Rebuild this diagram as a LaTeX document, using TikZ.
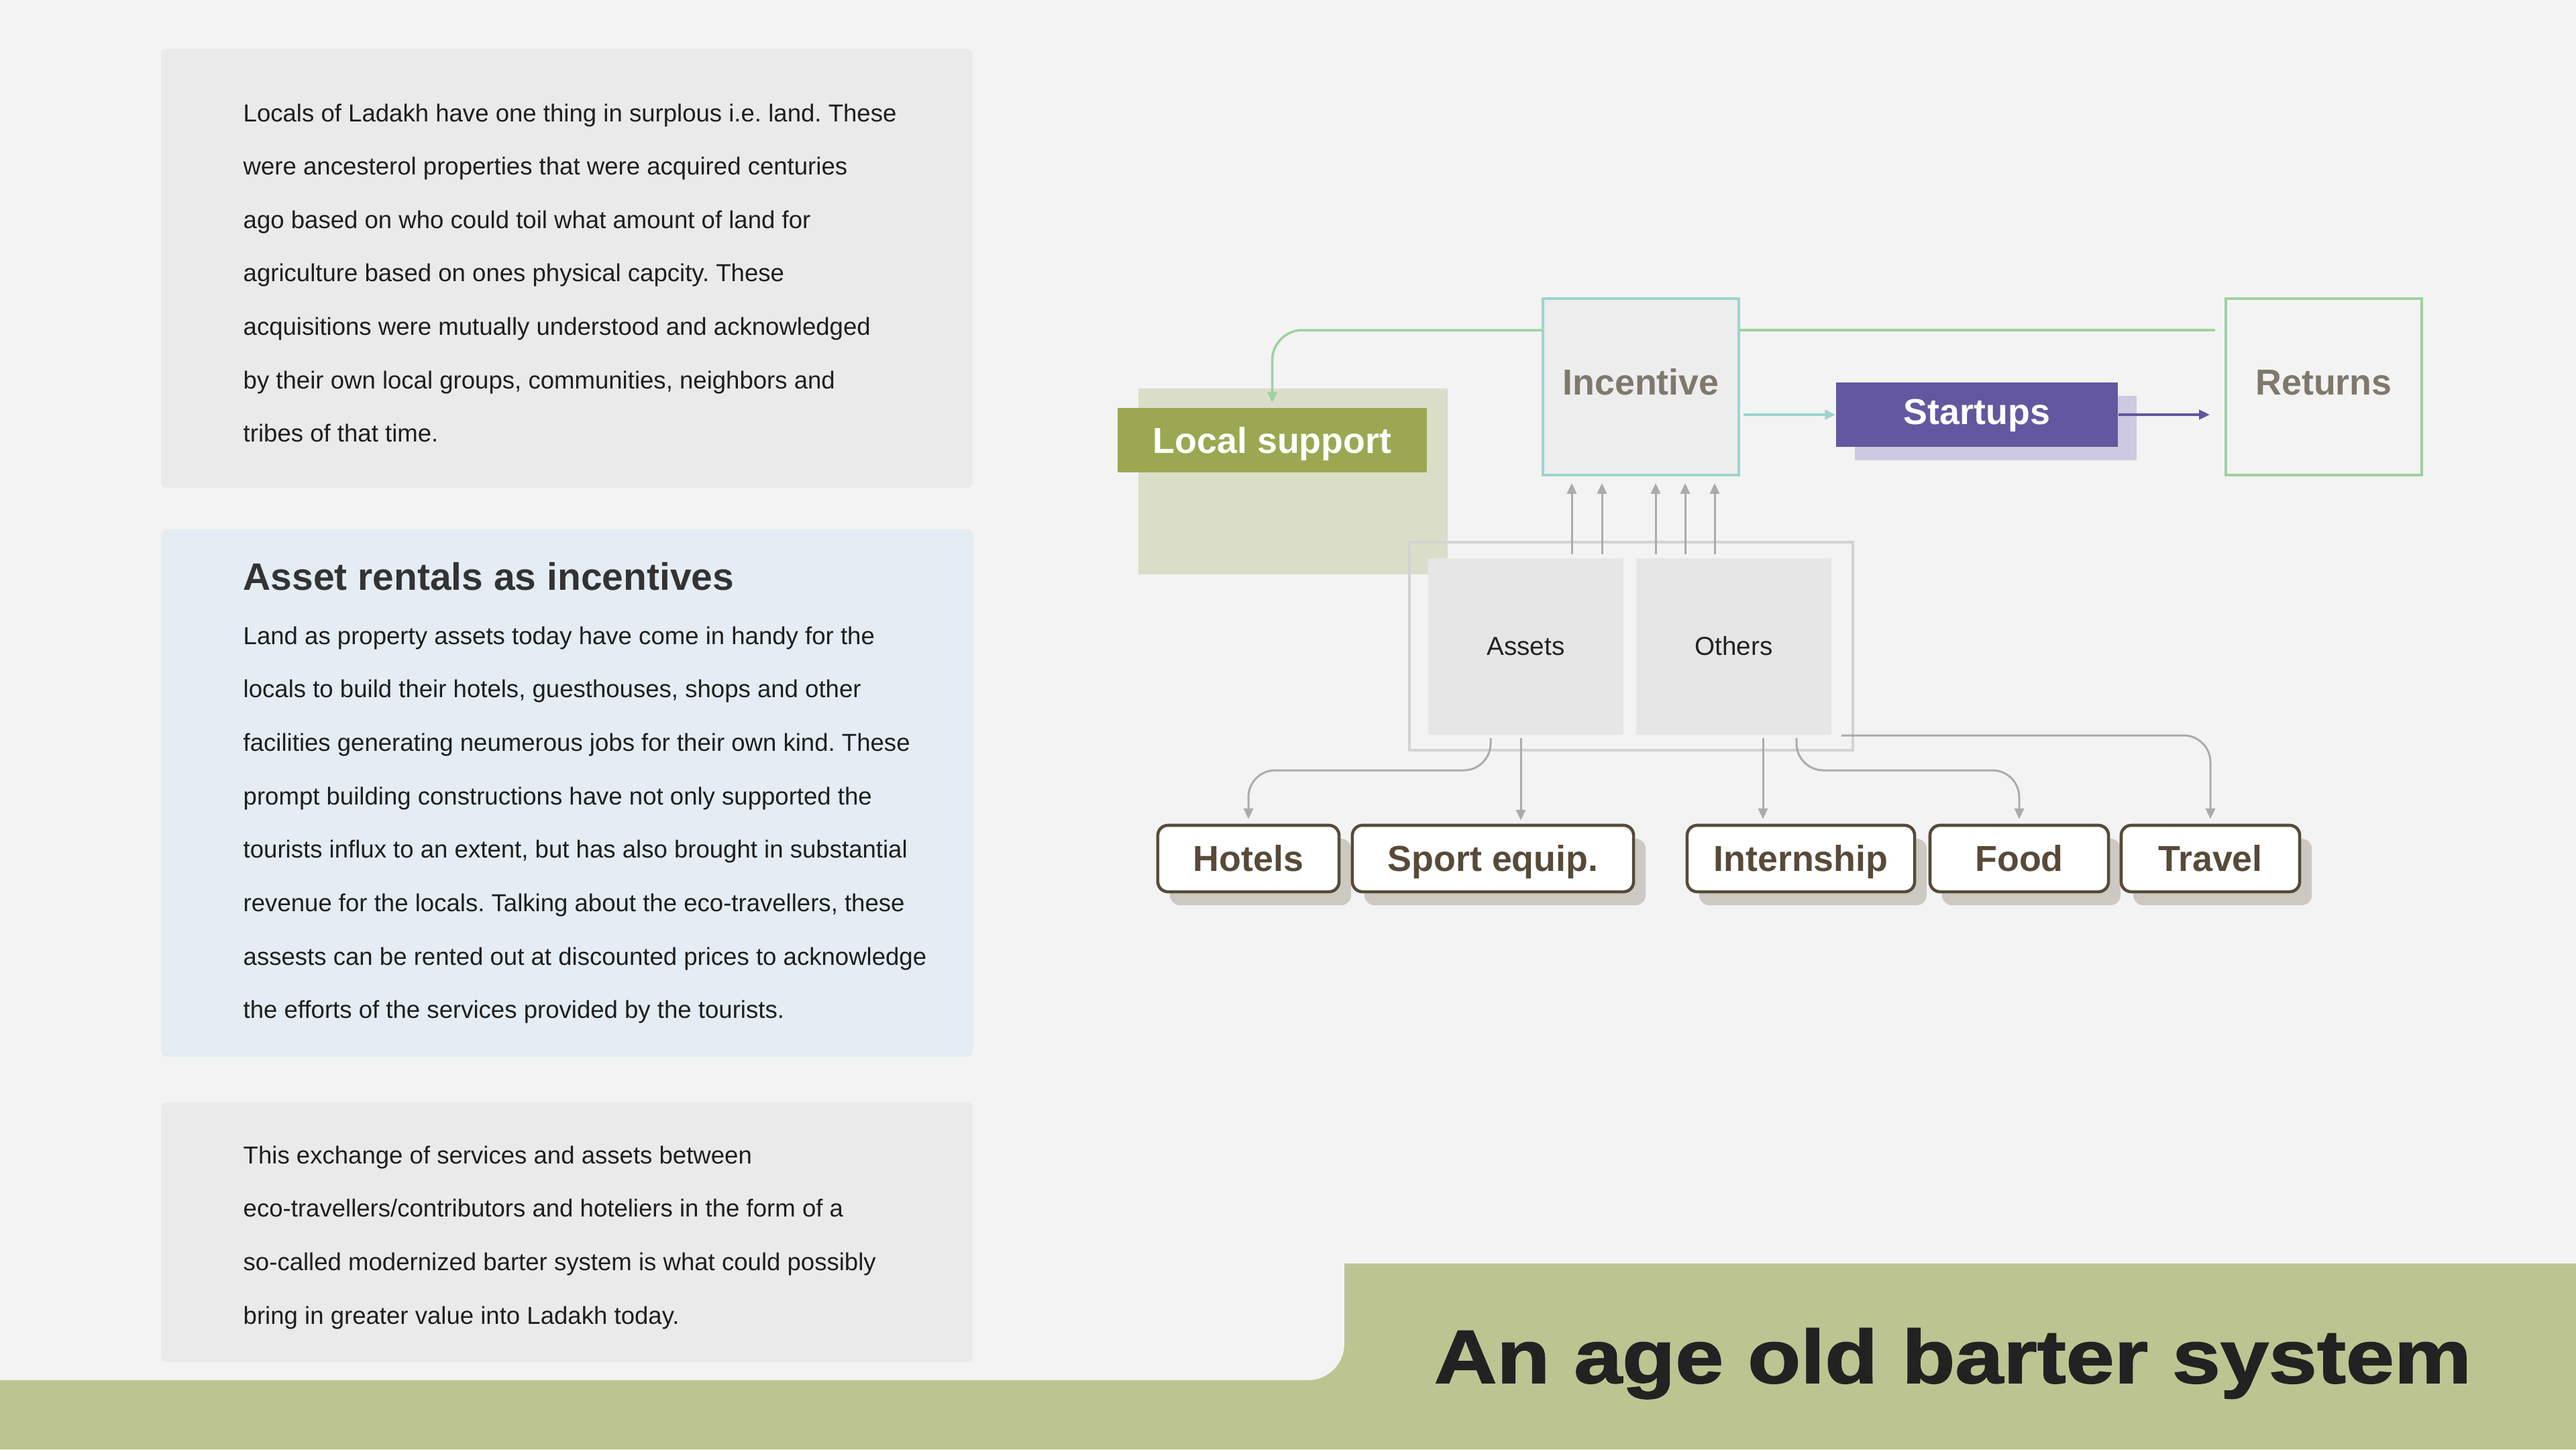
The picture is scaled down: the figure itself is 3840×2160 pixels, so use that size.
\documentclass[tikz,border=0pt]{standalone}
\usepackage{fontspec}
\setmainfont{Liberation Sans}
\newfontfamily\titlefont[FakeBold=1.6,FakeStretch=1.15]{Liberation Sans Bold}
\usetikzlibrary{arrows.meta,shadows}
\definecolor{bgc}{HTML}{F3F3F3}
\definecolor{panelgray}{HTML}{EAEAEA}
\definecolor{panelblue}{HTML}{E3EDF3}
\definecolor{bodyc}{HTML}{1E1E1E}
\definecolor{headc}{HTML}{333333}
\definecolor{bandc}{HTML}{BCC592}
\definecolor{titlec}{HTML}{222222}
\definecolor{olivec}{HTML}{9BA851}
\definecolor{backdropc}{HTML}{DADEC8}
\definecolor{tealc}{HTML}{9AD5CE}
\definecolor{glinec}{HTML}{9DD29F}
\definecolor{purplec}{HTML}{6357A0}
\definecolor{purpleshc}{HTML}{CDC9DF}
\definecolor{arrowgray}{HTML}{ABABAB}
\definecolor{contc}{HTML}{D3D3D3}
\definecolor{boxfill}{HTML}{E6E6E6}
\definecolor{incfill}{HTML}{EDEDED}
\definecolor{brownc}{HTML}{574A38}
\definecolor{brownshc}{HTML}{CCC9C3}
\definecolor{graytext}{HTML}{7F786C}
\newcommand\labelfont{\bfseries\fontsize{15.3}{18}\selectfont}
\frenchspacing
\begin{document}
\begin{tikzpicture}[x=0.01cm,y=-0.01cm,
  bodytext/.style={anchor=base west, inner sep=0, font=\fontsize{10.4}{12}\selectfont, text=bodyc},
  headtext/.style={anchor=base west, inner sep=0, font=\bfseries\fontsize{16.2}{19}\selectfont, text=headc},
  tipsty/.style={-{Triangle[length=4.5pt,width=4pt]}},
  garrow/.style={draw=arrowgray, line width=0.85pt, tipsty},
  gline/.style={draw=glinec, line width=1pt},
  bigbox/.style={minimum width=2.92cm, minimum height=2.63cm, inner sep=0, font=\labelfont, text=graytext, line width=1.1pt, text height=11pt, text depth=4pt},
  smallbox/.style={fill=boxfill, minimum width=2.91cm, minimum height=2.63cm, inner sep=0, font=\fontsize{11}{13}\selectfont, text=titlec, text height=8pt, text depth=0.5pt},
  bbox/.style={draw=brownc, line width=1.3pt, fill=white, rounded corners=0.15cm, minimum height=0.99cm, inner sep=0, font=\labelfont, text=brownc,
    text height=11pt, text depth=0pt,
    general shadow={fill=brownshc, shadow xshift=0.18cm, shadow yshift=-0.2cm}}
]
\useasboundingbox (0,0) rectangle (3840,2160);
\fill[bgc] (0,0) rectangle (3840,2160);

% ---------- left panels ----------
\fill[panelgray, rounded corners=0.08cm] (240,73) rectangle (1450,727);
\fill[panelblue, rounded corners=0.08cm] (240,789) rectangle (1450,1575);
\fill[panelgray, rounded corners=0.08cm] (240,1643) rectangle (1450,2030);

\node[bodytext] (a1) at (362,181.0) {Locals of Ladakh have one thing in surplous i.e. land. These};
\node[bodytext] (a2) at (362,260.6) {were ancesterol properties that were acquired centuries};
\node[bodytext] (a3) at (362,340.2) {ago based on who could toil what amount of land for};
\node[bodytext] (a4) at (362,419.8) {agriculture based on ones physical capcity. These};
\node[bodytext] (a5) at (362,499.4) {acquisitions were mutually understood and acknowledged};
\node[bodytext] (a6) at (362,579.0) {by their own local groups, communities, neighbors and};
\node[bodytext] (a7) at (362,658.6) {tribes of that time.};

\node[headtext] (bh) at (362,879) {Asset rentals as incentives};
\node[bodytext] (b1) at (362,960.0) {Land as property assets today have come in handy for the};
\node[bodytext] (b2) at (362,1039.7) {locals to build their hotels, guesthouses, shops and other};
\node[bodytext] (b3) at (362,1119.4) {facilities generating neumerous jobs for their own kind. These};
\node[bodytext] (b4) at (362,1199.1) {prompt building constructions have not only supported the};
\node[bodytext] (b5) at (362,1278.8) {tourists influx to an extent, but has also brought in substantial};
\node[bodytext] (b6) at (362,1358.5) {revenue for the locals. Talking about the eco-travellers, these};
\node[bodytext] (b7) at (362,1438.2) {assests can be rented out at discounted prices to acknowledge};
\node[bodytext] (b8) at (362,1517.9) {the efforts of the services provided by the tourists.};

\node[bodytext] (c1) at (362,1734.0) {This exchange of services and assets between};
\node[bodytext] (c2) at (362,1813.7) {eco-travellers/contributors and hoteliers in the form of a};
\node[bodytext] (c3) at (362,1893.4) {so-called modernized barter system is what could possibly};
\node[bodytext] (c4) at (362,1973.1) {bring in greater value into Ladakh today.};

% ---------- bottom band ----------
\fill[bandc] (0,2057) -- (1950,2057) .. controls (1979.8,2057) and (2004,2032.8) .. (2004,2003)
  -- (2004,1883) -- (3840,1883) -- (3840,2160) -- (0,2160) -- cycle;
\node[anchor=base, inner sep=0, font=\titlefont\fontsize{32}{36}\selectfont, text=titlec] (title) at (2911,2061) {An age old barter system};

% ---------- diagram ----------
\fill[backdropc] (1697,579) rectangle (2158,856);
\draw[draw=contc, line width=1pt] (2101,808) rectangle (2762,1118);
\node[smallbox] (assets) at (2274.5,963.5) {Assets};
\node[smallbox] (others) at (2584.5,963.5) {Others};

\node[fill=olivec, minimum width=4.61cm, minimum height=0.96cm, inner sep=0, font=\labelfont, text=white, text height=11pt, text depth=0pt] (lsup) at (1896.5,656) {Local support};
\node[bigbox, draw=tealc, fill=incfill] (incentive) at (2446,576.5) {Incentive};
\node[bigbox, draw=glinec] (returns) at (3464,576.5) {Returns};
\node[fill=purplec, minimum width=4.2cm, minimum height=0.96cm, inner sep=0, font=\labelfont, text=white, text height=11pt, text depth=3pt,
  general shadow={fill=purpleshc, shadow xshift=0.28cm, shadow yshift=-0.2cm}] (startups) at (2947,618) {Startups};

\node[bbox, minimum width=2.70cm] (hotels) at (1861,1279.5) {Hotels};
\node[bbox, minimum width=4.19cm] (sport) at (2225.5,1279.5) {Sport equip.};
\node[bbox, minimum width=3.39cm] (intern) at (2684.5,1279.5) {Internship};
\node[bbox, minimum width=2.66cm] (food) at (3010,1279.5) {Food};
\node[bbox, minimum width=2.66cm] (travel) at (3295,1279.5) {Travel};

% connectors
\coordinate (tl) at (0,492);
\coordinate (bl) at (0,1148);
\coordinate (trl) at (0,1096);
\draw[gline, draw=glinec, tipsty, rounded corners=0.45cm, shorten >=2pt] (incentive.west |- tl) -- (lsup.north |- tl) -- (lsup.north);
\draw[gline, shorten >=0.14cm] (incentive.east |- tl) -- (returns.west |- tl);
\draw[draw=tealc, line width=1pt, tipsty, shorten <=0.05cm] (incentive.east |- startups.west) -- (startups.west);
\draw[draw=purplec, line width=1pt, tipsty, shorten >=0.22cm] (startups.east) -- (returns.west |- startups.east);

\foreach \xx in {2343,2388,2468,2512,2556}
  \draw[garrow, shorten <=0.05cm, shorten >=0.1cm] (\xx,0 |- assets.north) -- (\xx,0 |- incentive.south);

\draw[garrow, rounded corners=0.4cm, shorten <=0.04cm, shorten >=0.07cm] (2222,0 |- assets.south) -- (2222,0 |- bl) -- (hotels.north |- bl) -- (hotels.north);
\draw[garrow, shorten <=0.04cm, shorten >=0.05cm] (2267,0 |- assets.south) -- (2267,0 |- sport.north);
\draw[garrow, shorten <=0.04cm, shorten >=0.07cm] (2628,0 |- others.south) -- (2628,0 |- intern.north);
\draw[garrow, rounded corners=0.4cm, shorten <=0.04cm, shorten >=0.07cm] (2678,0 |- others.south) -- (2678,0 |- bl) -- (food.north |- bl) -- (food.north);
\draw[garrow, rounded corners=0.4cm, shorten >=0.07cm] (2745,0 |- trl) -- (travel.north |- trl) -- (travel.north);
\end{tikzpicture}
\end{document}
